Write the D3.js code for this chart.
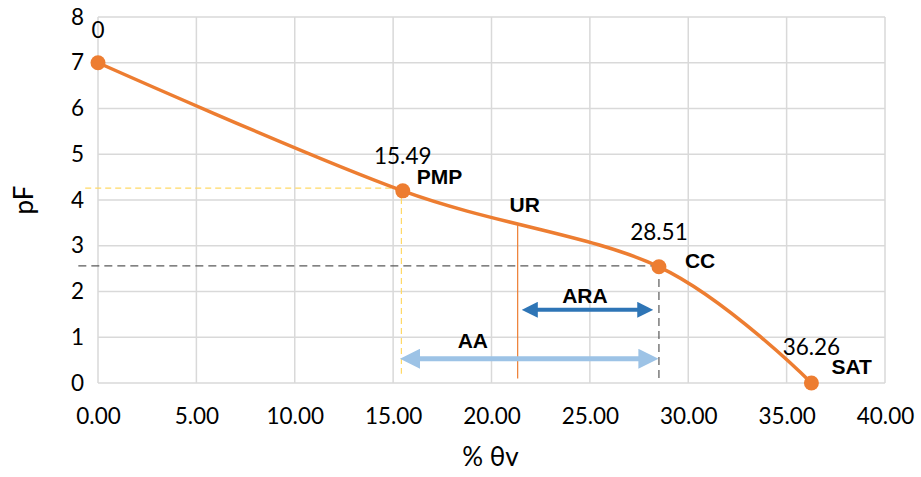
<!DOCTYPE html>
<html>
<head>
<meta charset="utf-8">
<script src="https://cdn.jsdelivr.net/npm/d3@7"></script>
<style>
  body { margin: 0; background: #fff; }
  text { font-family: Lato, "Open Sans", sans-serif; fill: #000; }
  .lbl-bold { font-family: "Liberation Sans", Arial, sans-serif; font-weight: bold; }
</style>
</head>
<body>
<div id="chart"></div>
<script>
// retention curve points
const theta = [0, 15.49, 28.51, 36.26];
const pF = [7, 4.2, 2.54, 0];
const valueLabels = ["0", "15.49", "28.51", "36.26"];
const pointNames = ["", "PMP", "CC", "SAT"];

const xTicks = [0, 5, 10, 15, 20, 25, 30, 35, 40];
const yTicks = [0, 1, 2, 3, 4, 5, 6, 7, 8];

// UR marker and the two ranges
const urTheta = 21.33, urTop = 3.45, urBottom = 0.1;
const araRange = [21.54, 28.22], araY = 1.6;
const aaRange = [15.35, 28.48], aaY = 0.53;

const width = 921, height = 477;
const margin = { top: 17, right: 36, bottom: 94, left: 98 };
const w = width - margin.left - margin.right;
const h = height - margin.top - margin.bottom;

const svg = d3.select("#chart").append("svg")
    .attr("width", width)
    .attr("height", height);

const g = svg.append("g")
    .attr("transform", "translate(" + margin.left + "," + margin.top + ")");

const x = d3.scaleLinear().domain([0, 40]).range([0, w]);
const y = d3.scaleLinear().domain([0, 8]).range([h, 0]);

// gridlines
g.append("g").selectAll("line").data(xTicks).join("line")
    .attr("x1", d => x(d)).attr("x2", d => x(d))
    .attr("y1", 0).attr("y2", h)
    .attr("stroke", "#d9d9d9").attr("stroke-width", 1.5);
g.append("g").selectAll("line").data(yTicks).join("line")
    .attr("x1", 0).attr("x2", w)
    .attr("y1", d => y(d)).attr("y2", d => y(d))
    .attr("stroke", "#d9d9d9").attr("stroke-width", 1.5);

// axes (labels only)
const xAxis = d3.axisBottom(x).tickValues(xTicks).tickFormat(d3.format(".2f")).tickSize(0).tickPadding(25);
const yAxis = d3.axisLeft(y).tickValues(yTicks).tickFormat(d3.format("d")).tickSize(0).tickPadding(14);

g.append("g").attr("transform", "translate(0," + h + ")").call(xAxis)
    .call(s => s.select(".domain").remove())
    .selectAll("text").style("font-size", "22.5px").style("font-family", "Lato, sans-serif");
g.append("g").call(yAxis)
    .call(s => s.select(".domain").remove())
    .selectAll("text").style("font-size", "22.5px").style("font-family", "Lato, sans-serif");

// guide lines
const pmpY = 4.26, ccY = 2.56;
g.append("line")
    .attr("x1", x(-0.65)).attr("x2", x(theta[1])).attr("y1", y(pmpY)).attr("y2", y(pmpY))
    .attr("stroke", "#ffd966").attr("stroke-width", 1.2).attr("stroke-dasharray", "6,4");
g.append("line")
    .attr("x1", x(15.42)).attr("x2", x(15.42)).attr("y1", y(pmpY)).attr("y2", y(0.2))
    .attr("stroke", "#ffd966").attr("stroke-width", 1.2).attr("stroke-dasharray", "6,4");
g.append("line")
    .attr("x1", x(-1)).attr("x2", x(theta[2])).attr("y1", y(ccY)).attr("y2", y(ccY))
    .attr("stroke", "#595959").attr("stroke-width", 1.2).attr("stroke-dasharray", "8,5");
g.append("line")
    .attr("x1", x(theta[2])).attr("x2", x(theta[2])).attr("y1", y(ccY)).attr("y2", y(0))
    .attr("stroke", "#595959").attr("stroke-width", 1.2).attr("stroke-dasharray", "8,5");

// UR line
g.append("line")
    .attr("x1", x(urTheta)).attr("x2", x(urTheta)).attr("y1", y(urTop)).attr("y2", y(urBottom))
    .attr("stroke", "#ed7d31").attr("stroke-width", 1.2);

// arrowheads
const defs = svg.append("defs");
function marker(id, color) {
    defs.append("marker")
        .attr("id", id)
        .attr("viewBox", "0 0 10 10")
        .attr("refX", 5).attr("refY", 5)
        .attr("markerWidth", 4).attr("markerHeight", 4)
        .attr("markerUnits", "strokeWidth")
        .attr("orient", "auto-start-reverse")
        .append("path").attr("d", "M0,0 L10,5 L0,10 Z").attr("fill", color);
}
marker("araHead", "#2e75b6");
marker("aaHead", "#9dc3e6");

g.append("line")
    .attr("x1", x(araRange[0]) + 8).attr("x2", x(araRange[1]) - 8)
    .attr("y1", y(araY)).attr("y2", y(araY))
    .attr("stroke", "#2e75b6").attr("stroke-width", 4)
    .attr("marker-start", "url(#araHead)").attr("marker-end", "url(#araHead)");
g.append("line")
    .attr("x1", x(aaRange[0]) + 10).attr("x2", x(aaRange[1]) - 10)
    .attr("y1", y(aaY)).attr("y2", y(aaY))
    .attr("stroke", "#9dc3e6").attr("stroke-width", 5)
    .attr("marker-start", "url(#aaHead)").attr("marker-end", "url(#aaHead)");

// curve
const pts = theta.map((t, i) => [t, pF[i]]);
const line = d3.line()
    .x(d => x(d[0])).y(d => y(d[1]))
    .curve(d3.curveCardinal.tension(0));
g.append("path").datum(pts)
    .attr("d", line)
    .attr("fill", "none")
    .attr("stroke", "#ed7d31").attr("stroke-width", 3.5);

g.selectAll("circle").data(pts).join("circle")
    .attr("cx", d => x(d[0])).attr("cy", d => y(d[1]))
    .attr("r", 7.5).attr("fill", "#ed7d31");

// value labels
const valOffsets = [[0, -30], [0, -33], [0, -32], [0, -34]];
g.selectAll(".val").data(valueLabels).join("text")
    .attr("class", "val")
    .attr("x", (d, i) => x(theta[i]) + valOffsets[i][0])
    .attr("y", (d, i) => y(pF[i]) + valOffsets[i][1])
    .attr("text-anchor", "middle")
    .attr("dominant-baseline", "middle")
    .style("font-size", "22.5px")
    .text(d => d);

// point name labels
const nameOffsets = [[0, 0], [14, -12], [26, -4], [20, -15]];
g.selectAll(".name").data(pointNames).join("text")
    .attr("class", "name lbl-bold")
    .attr("x", (d, i) => x(theta[i]) + nameOffsets[i][0])
    .attr("y", (d, i) => y(pF[i]) + nameOffsets[i][1])
    .attr("dominant-baseline", "middle")
    .style("font-size", "21px")
    .text(d => d);

// range labels
g.append("text").attr("class", "lbl-bold")
    .attr("x", x(urTheta) + 7).attr("y", y(urTop) - 19)
    .attr("text-anchor", "middle").attr("dominant-baseline", "middle")
    .style("font-size", "21px").text("UR");
g.append("text").attr("class", "lbl-bold")
    .attr("x", x(24.75)).attr("y", y(araY) - 12)
    .attr("text-anchor", "middle").attr("dominant-baseline", "middle")
    .style("font-size", "21px").text("ARA");
g.append("text").attr("class", "lbl-bold")
    .attr("x", x(19.05)).attr("y", y(aaY) - 16)
    .attr("text-anchor", "middle").attr("dominant-baseline", "middle")
    .style("font-size", "21px").text("AA");

// axis titles
svg.append("text")
    .attr("x", margin.left + w / 2 - 1).attr("y", 459)
    .attr("text-anchor", "middle").attr("dominant-baseline", "middle")
    .style("font-size", "26px").text("% θv");
svg.append("text")
    .attr("transform", "translate(26,200) rotate(-90)")
    .attr("text-anchor", "middle").attr("dominant-baseline", "middle")
    .style("font-size", "26px").text("pF");
</script>
</body>
</html>
